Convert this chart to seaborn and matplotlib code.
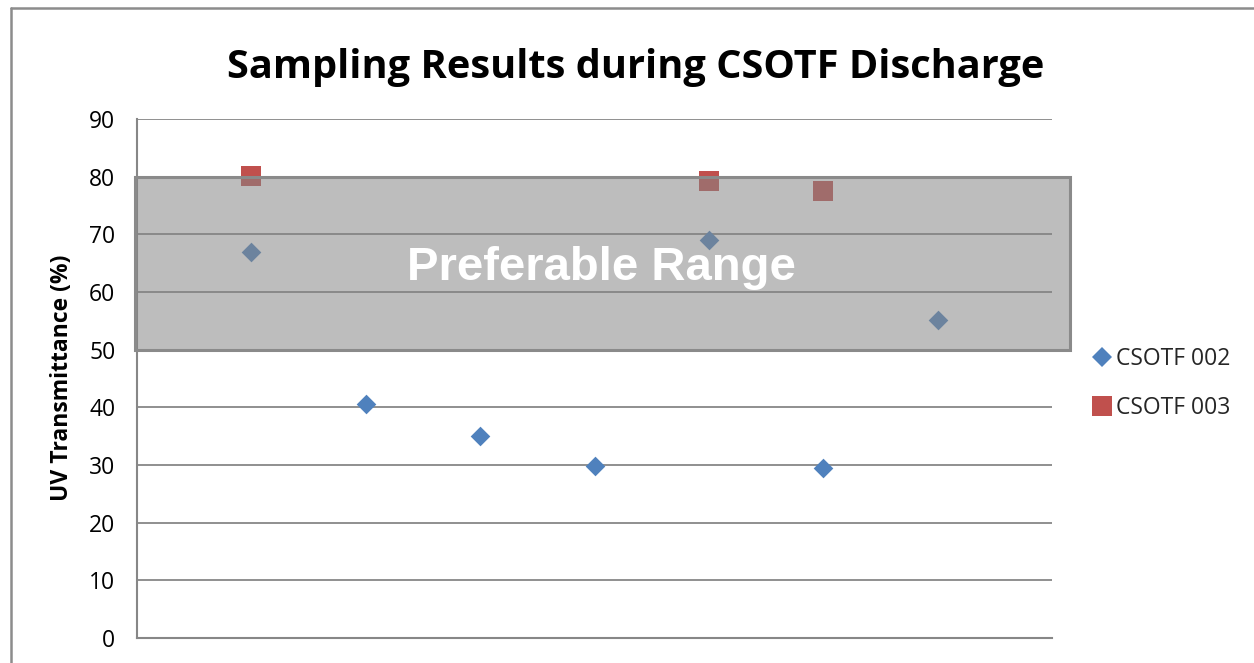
import matplotlib
matplotlib.use("Agg")
import matplotlib.pyplot as plt
from matplotlib.patches import Rectangle
from matplotlib.lines import Line2D
import pandas as pd
import seaborn as sns

# sample index on the x axis (no labels shown in the original)
sample_002 = [1, 2, 3, 4, 5, 6, 7]
uvt_002 = [67.0, 40.5, 35.0, 29.9, 69.0, 29.4, 55.1]

sample_003 = [1, 5, 6]
uvt_003 = [80.2, 79.3, 77.6]

y_ticks = [0, 10, 20, 30, 40, 50, 60, 70, 80, 90]
range_low, range_high = 50, 80

sns.set_style("white")
plt.rcParams["font.family"] = ["Open Sans", "DejaVu Sans"]

df_002 = pd.DataFrame({"sample": sample_002, "uvt": uvt_002, "series": "CSOTF 002"})
df_003 = pd.DataFrame({"sample": sample_003, "uvt": uvt_003, "series": "CSOTF 003"})

W, H = 1254, 663
fig = plt.figure(figsize=(W / 100, H / 100), dpi=100)
ax = fig.add_axes([137 / W, 25 / H, (1052 - 137) / W, (638 - 119) / H])

grid_col = "#878787"
ax.set_xlim(0, 8)
ax.set_ylim(0, 90)
ax.set_yticks(y_ticks)
ax.set_xticks([])
for y in y_ticks[1:]:
    ax.axhline(y, color=grid_col, lw=1.3, zorder=1)

sns.scatterplot(data=df_002, x="sample", y="uvt", ax=ax, marker="D", s=100,
                color="#4f81bd", linewidth=0, zorder=3, legend=False)
sns.scatterplot(data=df_003, x="sample", y="uvt", ax=ax, marker="s", s=200,
                color="#c0504d", linewidth=0, zorder=3, legend=False)

# shaded preferable range, drawn on top with transparency
ax.add_patch(Rectangle((-0.02, range_low), 8.18, range_high - range_low,
                       facecolor=(0.52, 0.52, 0.52, 0.54), edgecolor="#8a8a8a",
                       lw=2.2, zorder=4, clip_on=False))
ax.text(4.065, 62.0, "Preferable Range", color="white", fontsize=34,
        fontweight="bold", family="Liberation Sans", ha="center", va="baseline", zorder=5)

for side in ["top", "right"]:
    ax.spines[side].set_visible(False)
for side in ["left", "bottom"]:
    ax.spines[side].set_color(grid_col)
    ax.spines[side].set_linewidth(1.5)
ax.tick_params(axis="y", length=6.5, width=1.3, color=grid_col, labelsize=16.5,
               labelcolor="black", pad=9)
ax.set_xlabel("")
ax.set_ylabel("")

fig.text(0.5068, 1 - 78 / H, "Sampling Results during CSOTF Discharge",
         fontsize=28.6, fontweight="bold", color="black", ha="center", va="baseline")
fig.text(62 / W, 1 - 378 / H, "UV Transmittance (%)", rotation=90,
         fontsize=16.5, fontweight="bold", color="black", ha="center", va="center")

handles = [
    Line2D([], [], ls="", marker="D", ms=10, color="#4f81bd", mew=0),
    Line2D([], [], ls="", marker="s", ms=14, color="#c0504d", mew=0),
]
fig.legend(handles, ["CSOTF 002", "CSOTF 003"], loc="upper left",
           bbox_to_anchor=(1070 / W, 1 - 326 / H), frameon=False, fontsize=16.5,
           handlelength=1.0, handletextpad=0.1, labelspacing=1.12)

# outer chart frame (cropped on the right and bottom)
fig.add_artist(Line2D([11 / W, 11 / W], [0, 1 - 8 / H], color="#8c8c8c", lw=1.8))
fig.add_artist(Line2D([11 / W, 1], [1 - 8 / H, 1 - 8 / H], color="#8c8c8c", lw=1.8))

fig.savefig("out.png", dpi=100)
